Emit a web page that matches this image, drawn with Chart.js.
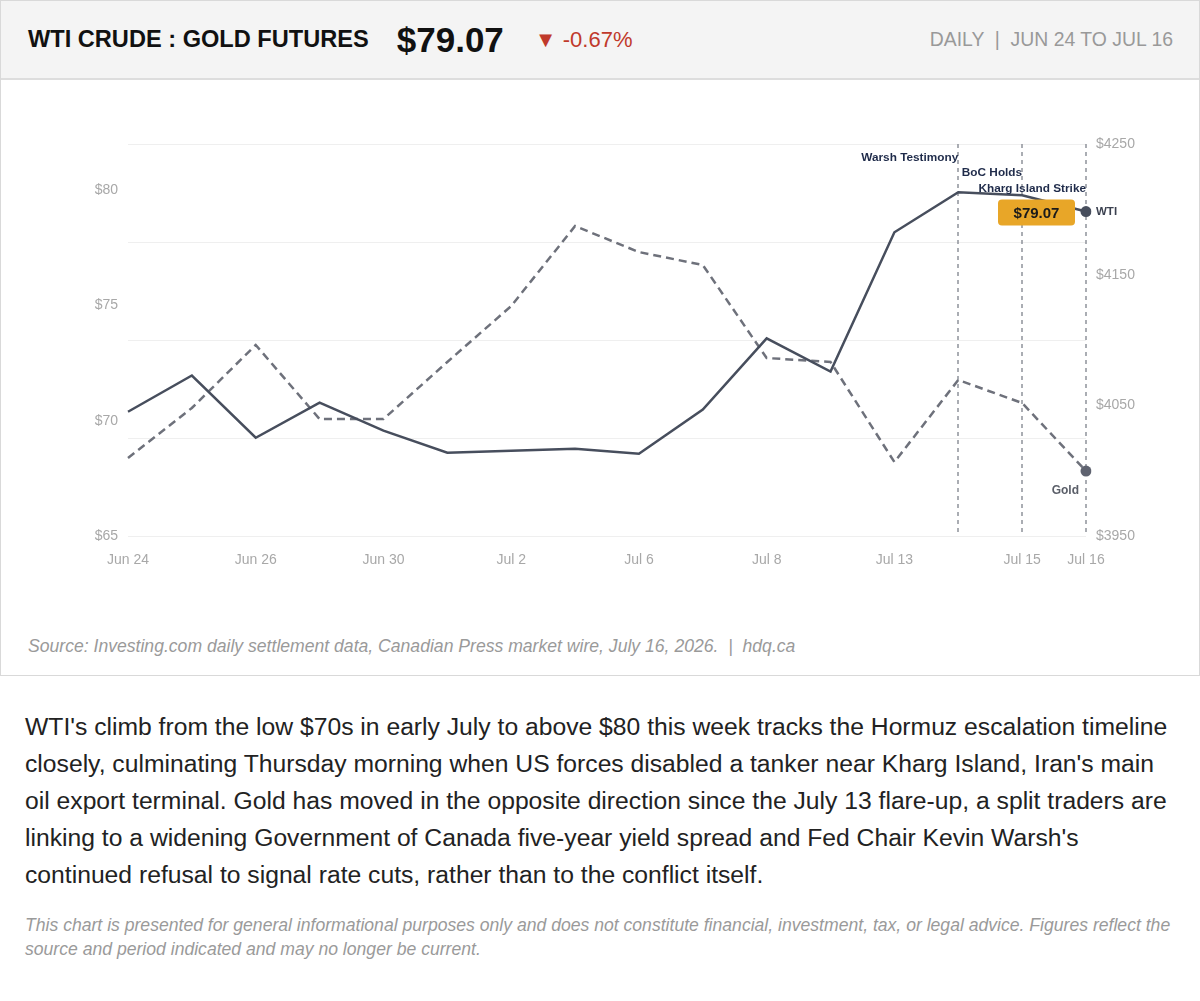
<!DOCTYPE html>
<html>
<head>
<meta charset="utf-8">
<script src="https://cdn.jsdelivr.net/npm/chart.js@4.4.1/dist/chart.umd.min.js"></script>
<style>
  html, body { margin: 0; padding: 0; background: #fff; }
  body { font-family: "Liberation Sans", Arial, sans-serif; width: 1200px; }
  .card { width: 1200px; box-sizing: border-box; border: 1px solid #d9d9d9; background: #fff; }
  .hdr { height: 77px; background: #f4f4f4; border-bottom: 2px solid #dddddd; display: flex; align-items: center; padding: 0 26px 0 27px; box-sizing: content-box; }
  .hdr .t { font-weight: bold; font-size: 23.6px; color: #111; }
  .hdr .p { font-weight: bold; font-size: 35px; color: #111; margin-left: 28px; }
  .hdr .c { font-size: 22px; color: #c0392b; margin-left: 31px; }
  .hdr .r { margin-left: auto; font-size: 19.4px; color: #999; }
  .wrap { position: relative; width: 1198px; height: 541px; }
  .src { padding: 14px 27px 18px; font-size: 17.6px; line-height: 22px; font-style: italic; color: #9a9a9a; }
  .body { margin: 32px 25px 0 25px; font-size: 24.7px; line-height: 37px; color: #222; }
  .disc { margin: 20px 25px 0 25px; font-size: 17.6px; line-height: 24px; font-style: italic; color: #9a9a9a; }
</style>
</head>
<body>
<div class="card">
  <div class="hdr">
    <span class="t">WTI CRUDE : GOLD FUTURES</span>
    <span class="p">$79.07</span>
    <span class="c">▼ -0.67%</span>
    <span class="r">DAILY &nbsp;|&nbsp; JUN 24 TO JUL 16</span>
  </div>
  <div class="wrap"><canvas id="c"></canvas></div>
  <div class="src">Source: Investing.com daily settlement data, Canadian Press market wire, July 16, 2026. &nbsp;|&nbsp; hdq.ca</div>
</div>
<div class="body">WTI's climb from the low $70s in early July to above $80 this week tracks the Hormuz escalation timeline closely, culminating Thursday morning when US forces disabled a tanker near Kharg Island, Iran's main oil export terminal. Gold has moved in the opposite direction since the July 13 flare-up, a split traders are linking to a widening Government of Canada five-year yield spread and Fed Chair Kevin Warsh's continued refusal to signal rate cuts, rather than to the conflict itself.</div>
<div class="disc">This chart is presented for general informational purposes only and does not constitute financial, investment, tax, or legal advice. Figures reflect the source and period indicated and may no longer be current.</div>

<script>
const dates = ["Jun 24","Jun 25","Jun 26","Jun 29","Jun 30","Jul 1","Jul 2","Jul 3","Jul 6","Jul 7","Jul 8","Jul 10","Jul 13","Jul 14","Jul 15","Jul 16"];
const wti  = [70.39, 71.96, 69.26, 70.78, 69.57, 68.61, 68.70, 68.78, 68.57, 70.48, 73.57, 72.13, 78.17, 79.91, 79.78, 79.07];
const gold = [4009.7, 4048.0, 4096.2, 4039.5, 4039.5, 4083.2, 4126.0, 4187.2, 4167.3, 4157.4, 4086.2, 4083.2, 4006.6, 4069.4, 4051.8, 3999.7];
const wtiTicks  = [65, 70, 75, 80];
const goldTicks = [3950, 4050, 4150, 4250];
const events = [
  { date: "Jul 14", label: "Warsh Testimony" },
  { date: "Jul 15", label: "BoC Holds" },
  { date: "Jul 16", label: "Kharg Island Strike" }
];
const lastPrice = "$79.07";

const FONT = '"Liberation Sans", Arial, sans-serif';
const last = dates.length - 1;

const overlay = {
  id: 'overlay',
  beforeDatasetsDraw(chart) {
    const { ctx, chartArea: a } = chart;
    ctx.save();
    ctx.strokeStyle = '#efefef';
    ctx.lineWidth = 1;
    for (let i = 0; i <= 4; i++) {
      const y = Math.round(a.top + (a.bottom - a.top) * i / 4) + 0.5;
      ctx.beginPath(); ctx.moveTo(a.left, y); ctx.lineTo(a.right, y); ctx.stroke();
    }
    const xs = chart.scales.x;
    ctx.strokeStyle = '#8f939b';
    ctx.lineWidth = 1.5;
    ctx.setLineDash([4, 4]);
    events.forEach(e => {
      const x = Math.round(xs.getPixelForValue(dates.indexOf(e.date)));
      ctx.beginPath(); ctx.moveTo(x, a.top); ctx.lineTo(x, a.bottom); ctx.stroke();
    });
    ctx.restore();
  },
  afterDatasetsDraw(chart) {
    const { ctx, chartArea: a } = chart;
    const xs = chart.scales.x;
    ctx.save();
    ctx.font = 'bold 11.8px ' + FONT;
    ctx.fillStyle = '#1f2b4a';
    ctx.textAlign = 'right';
    ctx.textBaseline = 'middle';
    events.forEach((e, i) => {
      const x = xs.getPixelForValue(dates.indexOf(e.date));
      ctx.fillText(e.label, x, a.top + 13.5 + i * 15.5);
    });
    // end labels
    const mW = chart.getDatasetMeta(0).data[last];
    const mG = chart.getDatasetMeta(1).data[last];
    ctx.textAlign = 'left';
    ctx.fillStyle = '#3b4150';
    ctx.font = 'bold 11.5px ' + FONT;
    ctx.fillText('WTI', mW.x + 10, mW.y);
    ctx.textAlign = 'right';
    ctx.fillStyle = '#5a5e68';
    ctx.font = 'bold 12px ' + FONT;
    ctx.fillText('Gold', mG.x - 7, mG.y + 20);
    // price badge
    const bw = 77, bh = 26;
    const bx = mW.x - 11 - bw, by = mW.y - bh / 2 + 1;
    ctx.fillStyle = '#e8a628';
    ctx.beginPath();
    ctx.roundRect(bx, by, bw, bh, 4);
    ctx.fill();
    ctx.fillStyle = '#1a1a1a';
    ctx.font = 'bold 15px ' + FONT;
    ctx.textAlign = 'center';
    ctx.fillText(lastPrice, bx + bw / 2, by + bh / 2 + 1);
    ctx.restore();
  }
};

new Chart(document.getElementById('c'), {
  type: 'line',
  data: {
    labels: dates,
    datasets: [
      {
        label: 'WTI', data: wti, yAxisID: 'y',
        borderColor: '#474e5d', borderWidth: 2.5, tension: 0,
        pointRadius: c => c.dataIndex === last ? 5.5 : 0,
        pointBackgroundColor: '#474e5d', pointBorderWidth: 0
      },
      {
        label: 'Gold', data: gold, yAxisID: 'y1',
        borderColor: '#6e717b', borderWidth: 2.5, borderDash: [8, 5], tension: 0,
        pointRadius: c => c.dataIndex === last ? 5.5 : 0,
        pointBackgroundColor: '#5f6370', pointBorderWidth: 0
      }
    ]
  },
  options: {
    responsive: true,
    maintainAspectRatio: false,
    animation: false,
    layout: { padding: { left: 20, right: 20, top: 64, bottom: 44 } },
    plugins: { legend: { display: false }, tooltip: { enabled: false } },
    scales: {
      x: {
        offset: false,
        grid: { display: false, drawTicks: false },
        border: { display: false },
        afterFit: s => { s.height = 41; },
        ticks: {
          autoSkip: false, maxRotation: 0, padding: 16,
          color: '#a8a8a8', font: { family: FONT, size: 14 },
          callback: function (v, i) { return (i % 2 === 0 || i === last) ? this.getLabelForValue(v) : ''; }
        }
      },
      y: {
        position: 'left', min: 65, max: 82,
        grid: { display: false, drawTicks: false },
        border: { display: false },
        afterFit: s => { s.width = 107; },
        afterBuildTicks: s => { s.ticks = wtiTicks.map(v => ({ value: v })); },
        ticks: { padding: 10, color: '#a8a8a8', font: { family: FONT, size: 14 }, callback: v => '$' + v }
      },
      y1: {
        position: 'right', min: 3950, max: 4250,
        grid: { display: false, drawTicks: false },
        border: { display: false },
        afterFit: s => { s.width = 93; },
        afterBuildTicks: s => { s.ticks = goldTicks.map(v => ({ value: v })); },
        ticks: { padding: 10, color: '#a8a8a8', font: { family: FONT, size: 14 }, callback: v => '$' + v }
      }
    }
  },
  plugins: [overlay]
});
</script>
</body>
</html>
